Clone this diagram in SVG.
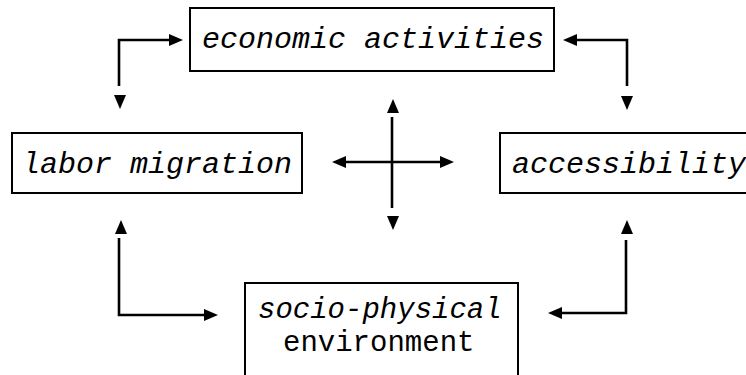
<svg xmlns="http://www.w3.org/2000/svg" xmlns:xlink="http://www.w3.org/1999/xlink" width="746" height="375" viewBox="0 0 746 375">
  <style>
    .box { fill: #fff; stroke: #000; stroke-width: 2; }
    .lbl { font-family: "Liberation Mono", "Courier New", monospace; font-size: 30px; fill: #000; }
    .sm { font-size: 29px; }
    .it { font-style: italic; }
    .ln { fill: none; stroke: #000; stroke-width: 2.6; stroke-linejoin: miter; stroke-linecap: butt; }
    .head { fill: #000; }
  </style>
  <defs>
    <!-- arrowhead pointing right, tip at origin -->
    <path id="ah" d="M0,0 L-14,-6 L-14,6 Z"/>
  </defs>
  <rect width="746" height="375" fill="#fff"/>

  <g id="connectors">
    <!-- economic activities <-> labor migration -->
    <path class="ln" d="M119,86 V40 H169"/>
    <use xlink:href="#ah" class="head" transform="translate(183,40)"/>
    <use xlink:href="#ah" class="head" transform="translate(120,109) rotate(90)"/>

    <!-- economic activities <-> accessibility -->
    <path class="ln" d="M576,40 H627 V86"/>
    <use xlink:href="#ah" class="head" transform="translate(563,40) rotate(180)"/>
    <use xlink:href="#ah" class="head" transform="translate(627,110) rotate(90)"/>

    <!-- central cross -->
    <path class="ln" d="M392,117 V208 M346,162 H440"/>
    <use xlink:href="#ah" class="head" transform="translate(393,99) rotate(-90)"/>
    <use xlink:href="#ah" class="head" transform="translate(393,230) rotate(90)"/>
    <use xlink:href="#ah" class="head" transform="translate(332,162) rotate(180)"/>
    <use xlink:href="#ah" class="head" transform="translate(454,162)"/>

    <!-- labor migration <-> socio-physical environment -->
    <path class="ln" d="M119,238 V315 H205"/>
    <use xlink:href="#ah" class="head" transform="translate(121,220) rotate(-90)"/>
    <use xlink:href="#ah" class="head" transform="translate(218,315)"/>

    <!-- accessibility <-> socio-physical environment -->
    <path class="ln" d="M626,240 V313 H561"/>
    <use xlink:href="#ah" class="head" transform="translate(627,220) rotate(-90)"/>
    <use xlink:href="#ah" class="head" transform="translate(548,313) rotate(180)"/>
  </g>

  <g id="economic-activities">
    <rect class="box" x="190" y="8" width="364" height="63"/>
    <text class="lbl it" x="202" y="48">economic activities</text>
  </g>

  <g id="labor-migration">
    <rect class="box" x="12" y="133" width="290" height="60"/>
    <text class="lbl it" x="22" y="173">labor migration</text>
  </g>

  <g id="accessibility">
    <rect class="box" x="500" y="133" width="260" height="60"/>
    <text class="lbl it" x="512" y="173">accessibility</text>
  </g>

  <g id="socio-physical-environment">
    <rect class="box" x="245" y="283" width="273" height="110"/>
    <text class="lbl sm it" x="258" y="318">socio-physical</text>
    <text class="lbl sm" x="283" y="351">environment</text>
  </g>
</svg>
